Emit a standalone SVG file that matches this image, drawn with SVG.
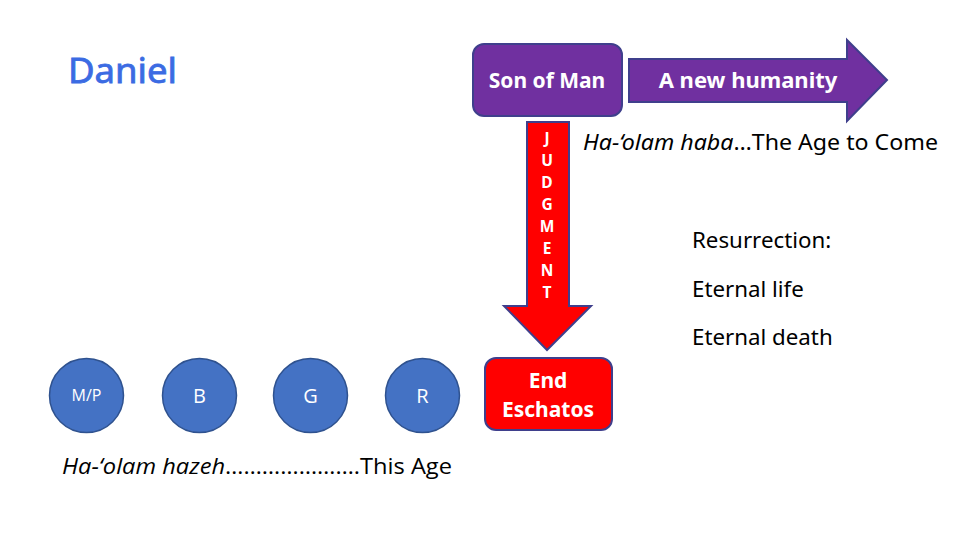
<svg xmlns="http://www.w3.org/2000/svg" width="960" height="540" viewBox="0 0 960 540">
<style>
.sans{font-family:'Noto Sans','DejaVu Sans',sans-serif}
.cal{font-family:'Open Sans','Liberation Sans',sans-serif}
.wb{fill:#fff;font-weight:bold}
.purple{fill:#7030A0;stroke:#3F3F8C;stroke-width:2}
.red{fill:#FF0000;stroke:#3F3F8C;stroke-width:2}
.circ{fill:#4472C4;stroke:#2F528F;stroke-width:1.5}
.blk{fill:#000}
</style>
<rect width="960" height="540" fill="#fff"/>
<g id="title">
<text class="sans" x="68" y="83" font-size="35" fill="#3B6BE3" stroke="#3B6BE3" stroke-width="0.8" textLength="109" lengthAdjust="spacingAndGlyphs">Daniel</text>
</g>
<g id="son-of-man">
<rect class="purple" x="473" y="44" width="149" height="72" rx="11"/>
<text class="sans wb" x="547" y="88" font-size="21" text-anchor="middle">Son of Man</text>
</g>
<g id="connectors">
<g id="new-humanity-arrow">
<polygon class="purple" points="629,59 847,59 847,40 887,80 847,121 847,102 629,102"/>
<text class="sans wb" x="748" y="88" font-size="22" text-anchor="middle">A new humanity</text>
</g>
<g id="judgment-arrow">
<polygon class="red" points="527,122 569,122 569,306 591,306 547,350 504,306 527,306"/>
<g class="sans wb" font-size="15.5" text-anchor="middle">
<text x="547" y="144">J</text>
<text x="547" y="166">U</text>
<text x="547" y="188">D</text>
<text x="547" y="210">G</text>
<text x="547" y="232">M</text>
<text x="547" y="254">E</text>
<text x="547" y="276">N</text>
<text x="547" y="298">T</text>
</g>
</g>
</g>
<g id="end-eschatos">
<rect class="red" x="485" y="358" width="127" height="72" rx="11"/>
<text class="sans wb" x="548" y="388" font-size="21" text-anchor="middle">End</text>
<text class="sans wb" x="548" y="417" font-size="21" text-anchor="middle">Eschatos</text>
</g>
<g id="age-to-come">
<text class="sans blk" x="583" y="150" font-size="21" textLength="355" lengthAdjust="spacingAndGlyphs"><tspan font-style="italic">Ha-‘olam haba</tspan>…The Age to Come</text>
</g>
<g id="resurrection" class="sans blk" font-size="22.3">
<text x="692" y="248">Resurrection:</text>
<text x="692" y="297">Eternal life</text>
<text x="692" y="345">Eternal death</text>
</g>
<g id="circle-mp">
<circle class="circ" cx="86.5" cy="395.5" r="37"/>
<text class="cal" x="86.5" y="401" font-size="16" fill="#fff" text-anchor="middle">M/P</text>
</g>
<g id="circle-b">
<circle class="circ" cx="199.5" cy="395.5" r="37"/>
<text class="cal" x="199.5" y="403" font-size="20" fill="#fff" text-anchor="middle">B</text>
</g>
<g id="circle-g">
<circle class="circ" cx="310.5" cy="395.5" r="37"/>
<text class="cal" x="310.5" y="403" font-size="20" fill="#fff" text-anchor="middle">G</text>
</g>
<g id="circle-r">
<circle class="circ" cx="422.5" cy="395.5" r="37"/>
<text class="cal" x="422.5" y="403" font-size="20" fill="#fff" text-anchor="middle">R</text>
</g>
<g id="this-age">
<text class="cal blk" x="62" y="474" font-size="21" textLength="390" lengthAdjust="spacingAndGlyphs"><tspan font-style="italic">Ha-‘olam hazeh</tspan>………………….This Age</text>
</g>
</svg>
